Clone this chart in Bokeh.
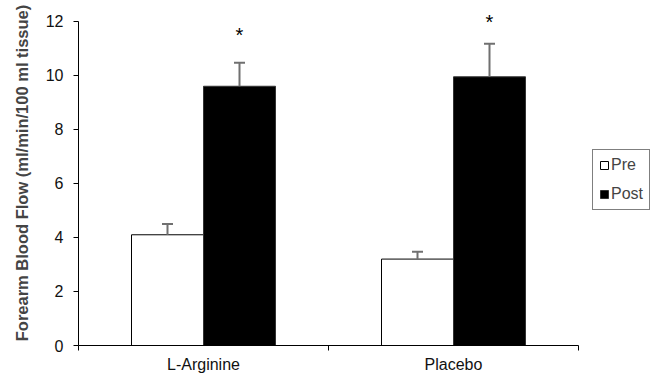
from bokeh.plotting import figure
from bokeh.models import Range1d, FixedTicker, Legend, LegendItem, Whisker, TeeHead, ColumnDataSource
from bokeh.core.properties import value
from bokeh.embed import file_html
from bokeh.resources import INLINE

categories = ["L-Arginine", "Placebo"]
series = ["Pre", "Post"]
pre = [4.1, 3.2]
post = [9.6, 9.95]
pre_err = [0.4, 0.27]
post_err = [0.87, 1.22]
sig_y = [11.48, 11.98]
y_ticks = [0, 2, 4, 6, 8, 10, 12]

bar_w = 0.288
centers = [i + 0.5 for i in range(len(categories))]
pre_x = [c - bar_w / 2 for c in centers]
post_x = [c + bar_w / 2 for c in centers]

FONT = "Liberation Sans"

p = figure(width=662, height=375, output_backend="svg", toolbar_location=None,
           x_range=Range1d(0, 584 / 250), y_range=Range1d(0, 346 / 27.083),
           min_border_left=78, min_border_right=0, min_border_top=0, min_border_bottom=29)
p.outline_line_color = None
p.xgrid.visible = False
p.ygrid.visible = False
p.background_fill_color = "white"

src_pre = ColumnDataSource(dict(x=pre_x, top=pre, up=[a + b for a, b in zip(pre, pre_err)]))
src_post = ColumnDataSource(dict(x=post_x, top=post, up=[a + b for a, b in zip(post, post_err)]))

r_pre = p.vbar(x="x", top="top", width=bar_w, source=src_pre, fill_color="white", line_color="black", line_width=1)
r_post = p.vbar(x="x", top="top", width=bar_w, source=src_post, fill_color="black", line_color="#333333", line_width=1)

for s in (src_pre, src_post):
    w = Whisker(base="x", lower="top", upper="up", source=s,
                upper_head=TeeHead(size=11, line_color="#707070", line_width=2),
                lower_head=None, line_color="#707070", line_width=2, level="annotation")
    p.add_layout(w)

src_sig = ColumnDataSource(dict(x=post_x, y=sig_y, t=["*"] * len(post_x)))
p.text(x="x", y="y", text="t", source=src_sig, text_align="center", text_baseline="middle",
       text_font_size="20px", text_font=value(FONT), text_color="black")

# axes
p.yaxis.ticker = FixedTicker(ticks=y_ticks, minor_ticks=[])
p.yaxis.bounds = (0, 12)
p.yaxis.major_tick_out = 5
p.yaxis.major_tick_in = 0
p.yaxis.minor_tick_out = 0
p.yaxis.major_label_standoff = 10
p.yaxis.major_label_text_font = FONT
p.yaxis.major_label_text_font_size = "16px"
p.yaxis.major_label_text_color = "#111111"
p.yaxis.axis_label = "Forearm Blood Flow (ml/min/100 ml tissue)"
p.yaxis.axis_label_text_font = FONT
p.yaxis.axis_label_text_font_style = "bold"
p.yaxis.axis_label_text_font_size = "16.5px"
p.yaxis.axis_label_standoff = 12
p.yaxis.axis_line_color = "black"
p.yaxis.major_tick_line_color = "black"

p.xaxis.ticker = FixedTicker(ticks=centers, minor_ticks=[float(i) for i in range(len(categories) + 1)])
p.xaxis.major_label_overrides = {c: n for c, n in zip(centers, categories)}
p.xaxis.bounds = (0, len(categories))
p.xaxis.major_tick_out = 0
p.xaxis.major_tick_in = 0
p.xaxis.minor_tick_out = 5
p.xaxis.minor_tick_in = 0
p.xaxis.major_label_standoff = 5
p.xaxis.major_label_text_font = FONT
p.xaxis.major_label_text_font_size = "16px"
p.xaxis.major_label_text_color = "#111111"
p.xaxis.axis_line_color = "black"
p.xaxis.minor_tick_line_color = "black"

legend = Legend(items=[LegendItem(label=series[0], renderers=[r_pre]),
                       LegendItem(label=series[1], renderers=[r_post])],
                location=(514, 135), orientation="vertical",
                border_line_color="black", border_line_width=1,
                background_fill_color="white", background_fill_alpha=1,
                glyph_width=10, glyph_height=10, label_standoff=2,
                label_height=18, spacing=11, padding=6, margin=0,
                label_text_font=FONT, label_text_font_size="16px")
p.add_layout(legend)

open("out.html", "w").write(file_html(p, INLINE))
